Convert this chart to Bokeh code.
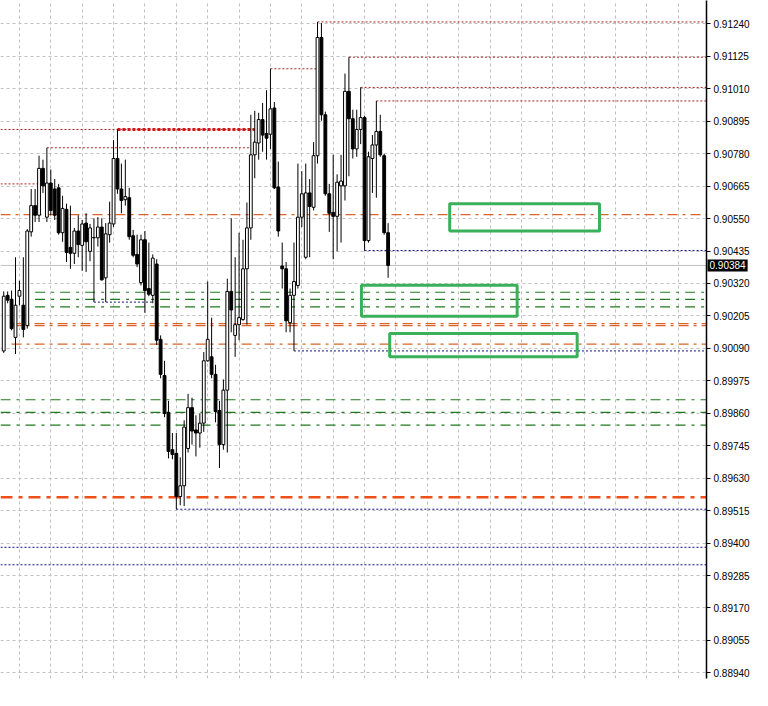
import numpy as np
from bokeh.plotting import figure
from bokeh.models import Range1d, FixedTicker, PrintfTickFormatter, Label, ColumnDataSource
from bokeh.embed import file_html
from bokeh.resources import INLINE

# ---- candle data (index, open, high, low, close) ----
opens = [0.90081, 0.90278, 0.90264, 0.90129, 0.90275, 0.90243, 0.90171, 0.90503, 0.90596, 0.90562,
         0.90728, 0.90555, 0.90676, 0.90655, 0.90659, 0.90500, 0.90583, 0.90448, 0.90427, 0.90506,
         0.90455, 0.90534, 0.90434, 0.90482, 0.90482, 0.90520, 0.90340, 0.90493, 0.90531, 0.90763,
         0.90655, 0.90617, 0.90624, 0.90489, 0.90423, 0.90323, 0.90475, 0.90302, 0.90278, 0.90389,
         0.90122, 0.89994, 0.89863, 0.89731, 0.89718, 0.89565, 0.89603, 0.89735, 0.89880, 0.89801,
         0.89790, 0.89825, 0.90046, 0.90060, 0.89998, 0.89870, 0.89749, 0.89942, 0.90292, 0.90136,
         0.90174, 0.90192, 0.90372, 0.90517, 0.90776, 0.90818, 0.90901, 0.90852, 0.90849, 0.90942,
         0.90662, 0.90382, 0.90372, 0.90181, 0.90278, 0.90313, 0.90555, 0.90413, 0.90641, 0.90590,
         0.90773, 0.91192, 0.90918, 0.90638, 0.90572, 0.90558, 0.90666, 0.90666, 0.91001, 0.90904,
         0.90797, 0.90866, 0.90908, 0.90472, 0.90763, 0.90811, 0.90859, 0.90773, 0.90500]
highs = [0.90292, 0.90292, 0.90295, 0.90413, 0.90330, 0.90413, 0.90513, 0.90655, 0.90655, 0.90773,
         0.90759, 0.90801, 0.90724, 0.90690, 0.90673, 0.90631, 0.90603, 0.90596, 0.90517, 0.90562,
         0.90545, 0.90569, 0.90531, 0.90551, 0.90555, 0.90551, 0.90534, 0.90610, 0.90828, 0.90866,
         0.90745, 0.90759, 0.90659, 0.90510, 0.90493, 0.90493, 0.90506, 0.90465, 0.90423, 0.90406,
         0.90136, 0.90046, 0.89904, 0.89790, 0.89790, 0.89704, 0.89835, 0.89929, 0.89915, 0.89853,
         0.89859, 0.90077, 0.90327, 0.90199, 0.90032, 0.89904, 0.89980, 0.90337, 0.90551, 0.90413,
         0.90500, 0.90475, 0.90607, 0.90918, 0.90932, 0.90925, 0.90960, 0.91005, 0.91081, 0.90963,
         0.90752, 0.90465, 0.90396, 0.90302, 0.90465, 0.90745, 0.90718, 0.90745, 0.90690, 0.90821,
         0.91247, 0.91243, 0.90929, 0.90673, 0.90776, 0.90707, 0.90776, 0.91064, 0.91122, 0.90936,
         0.90936, 0.91015, 0.90915, 0.90787, 0.90846, 0.90967, 0.90918, 0.90780, 0.90534]
lows = [0.90074, 0.90250, 0.90154, 0.90070, 0.90243, 0.90129, 0.90160, 0.90486, 0.90538, 0.90538,
        0.90641, 0.90538, 0.90562, 0.90545, 0.90493, 0.90468, 0.90396, 0.90372, 0.90389, 0.90413,
        0.90365, 0.90361, 0.90399, 0.90254, 0.90451, 0.90330, 0.90254, 0.90465, 0.90520, 0.90638,
        0.90569, 0.90596, 0.90475, 0.90413, 0.90378, 0.90313, 0.90216, 0.90275, 0.90250, 0.90102,
        0.89984, 0.89846, 0.89700, 0.89697, 0.89520, 0.89534, 0.89531, 0.89721, 0.89749, 0.89707,
        0.89738, 0.89794, 0.90043, 0.89984, 0.89828, 0.89666, 0.89731, 0.89721, 0.90147, 0.90060,
        0.90119, 0.90188, 0.90174, 0.90475, 0.90693, 0.90759, 0.90787, 0.90759, 0.90797, 0.90655,
        0.90486, 0.90302, 0.90147, 0.90147, 0.90081, 0.90302, 0.90520, 0.90406, 0.90413, 0.90579,
        0.90745, 0.90897, 0.90631, 0.90503, 0.90406, 0.90434, 0.90465, 0.90614, 0.90700, 0.90763,
        0.90769, 0.90814, 0.90437, 0.90465, 0.90641, 0.90624, 0.90769, 0.90493, 0.90340]
closes = [0.90275, 0.90261, 0.90160, 0.90243, 0.90295, 0.90157, 0.90506, 0.90596, 0.90562, 0.90728,
          0.90666, 0.90676, 0.90579, 0.90562, 0.90500, 0.90586, 0.90430, 0.90427, 0.90506, 0.90458,
          0.90531, 0.90468, 0.90517, 0.90483, 0.90520, 0.90333, 0.90496, 0.90534, 0.90763, 0.90655,
          0.90614, 0.90628, 0.90486, 0.90420, 0.90389, 0.90475, 0.90295, 0.90282, 0.90410, 0.90119,
          0.89998, 0.89859, 0.89725, 0.89714, 0.89565, 0.89603, 0.89811, 0.89880, 0.89797, 0.89790,
          0.89825, 0.90046, 0.90122, 0.89998, 0.89866, 0.89749, 0.89942, 0.90292, 0.90226, 0.90174,
          0.90199, 0.90372, 0.90517, 0.90776, 0.90821, 0.90901, 0.90846, 0.90835, 0.90939, 0.90659,
          0.90506, 0.90372, 0.90188, 0.90278, 0.90327, 0.90555, 0.90638, 0.90641, 0.90593, 0.90773,
          0.91192, 0.90918, 0.90638, 0.90569, 0.90558, 0.90679, 0.90683, 0.91001, 0.90904, 0.90797,
          0.90866, 0.90908, 0.90472, 0.90769, 0.90811, 0.90859, 0.90776, 0.90500, 0.90384]

current_price = 0.90384
tick_values = [0.88940, 0.89055, 0.89170, 0.89285, 0.89400, 0.89515, 0.89630, 0.89745, 0.89860,
               0.89975, 0.90090, 0.90205, 0.90320, 0.90435, 0.90550, 0.90665, 0.90780, 0.90895,
               0.91010, 0.91125, 0.91240]
xgrid_bars = list(range(4, 180, 8))

X_START, X_END = -0.825, 179.175
Y_BOTTOM, Y_TOP = 0.88920, 0.91323

# ---- levels: price, start bar, end bar (None = chart edge) ----
red_prices = [0.91247, 0.91122, 0.91015, 0.90967, 0.91081, 0.90866, 0.90801, 0.90673]
red_start = [80, 88, 91, 95, 68, None, 11, None]
red_end = [None, None, None, None, 80, 64, 63, 9]
red_bold_prices = [0.90866]
red_bold_start = [29]
red_bold_end = [64]

orange_prices = [0.90564, 0.90178, 0.90171, 0.90105]
orange_start = [None, 2, 2, 2]
orange_bold_prices = [0.89562]

green_prices = [0.90289, 0.90264, 0.90237, 0.89908, 0.89863, 0.89818]
green_start = [8, 8, 8, None, None, None]

navy_prices = [0.90437, 0.90254, 0.90081, 0.89520, 0.89385, 0.89323]
navy_start = [92, 23, 74, 44, None, None]
navy_end = [None, 38, None, None, None, None]

zone_left = [113.7, 91.2, 98.4]
zone_right = [151.9, 130.9, 146.2]
zone_top = [0.90603, 0.90314, 0.90143]
zone_bottom = [0.90506, 0.90204, 0.90060]


def seg_src(prices, starts, ends=None):
    ends = ends if ends is not None else [None] * len(prices)
    return ColumnDataSource(dict(
        x0=[X_START if s is None else s for s in starts],
        x1=[X_END if e is None else e for e in ends],
        y=prices))


p = figure(width=752, height=690, output_backend="svg", toolbar_location=None,
           x_range=Range1d(X_START, X_END), y_range=Range1d(Y_BOTTOM, Y_TOP),
           x_axis_location=None, y_axis_location="right", min_border=0)
p.outline_line_color = None
p.background_fill_color = "white"

p.xgrid.ticker = FixedTicker(ticks=xgrid_bars)
p.ygrid.ticker = FixedTicker(ticks=tick_values)
for g in (p.xgrid, p.ygrid):
    g.grid_line_color = "#c0c0c0"
    g.grid_line_dash = "3 3"
    g.grid_line_width = 1

ax = p.yaxis[0]
ax.ticker = FixedTicker(ticks=tick_values)
ax.formatter = PrintfTickFormatter(format="%.5f")
ax.axis_line_color = "black"
ax.axis_line_width = 1.5
ax.major_tick_out = 4
ax.major_tick_in = 0
ax.minor_tick_line_color = None
ax.major_tick_line_color = "black"
ax.major_label_text_font = "Liberation Sans"
ax.major_label_text_font_size = "10px"
ax.major_label_text_color = "black"
ax.major_label_standoff = 3

# current price line
p.segment(x0=X_START, x1=X_END, y0=current_price, y1=current_price, line_color="#c0c0c0", line_width=1)

# levels
s = seg_src(red_prices, red_start, red_end)
p.segment(x0="x0", x1="x1", y0="y", y1="y", source=s, line_color="#a3231f", line_width=1, line_dash="2 2")
s = seg_src(red_bold_prices, red_bold_start, red_bold_end)
p.segment(x0="x0", x1="x1", y0="y", y1="y", source=s, line_color="#d01818", line_width=3, line_dash="3 2")
s = seg_src(orange_prices, orange_start)
p.segment(x0="x0", x1="x1", y0="y", y1="y", source=s, line_color="#d8642a", line_width=1.3, line_dash="10 5 3 5")
s = seg_src(orange_bold_prices, [None])
p.segment(x0="x0", x1="x1", y0="y", y1="y", source=s, line_color="#ee5018", line_width=2.5, line_dash="12 6 4 6")
s = seg_src(green_prices, green_start)
p.segment(x0="x0", x1="x1", y0="y", y1="y", source=s, line_color="#1f7a1f", line_width=1.2, line_dash="10 6 3 6")
s = seg_src(navy_prices, navy_start, navy_end)
p.segment(x0="x0", x1="x1", y0="y", y1="y", source=s, line_color="#101080", line_width=1, line_dash="2 2")

# candles
idx = list(range(len(opens)))
up = [c >= o for o, c in zip(opens, closes)]
src = ColumnDataSource(dict(
    x=idx, high=highs, low=lows,
    top=[max(o, c) for o, c in zip(opens, closes)],
    bottom=[min(o, c) for o, c in zip(opens, closes)],
    fill=["white" if u else "black" for u in up]))
p.segment(x0="x", x1="x", y0="low", y1="high", source=src, line_color="black", line_width=1)
p.vbar(x="x", top="top", bottom="bottom", width=0.72, fill_color="fill", line_color="black",
       line_width=1, source=src)

# zones
p.quad(left=zone_left, right=zone_right, top=zone_top, bottom=zone_bottom, fill_color=None,
       line_color="#3bb05a", line_width=3)

# current price tag on the axis (placed in a side panel so it is not clipped to the frame)
p.add_layout(Label(x=X_END, y=current_price, text="%.5f" % current_price, x_offset=1,
                   text_baseline="middle", text_align="left", text_color="white",
                   text_font="Liberation Sans", text_font_size="10px",
                   background_fill_color="black", padding=2), "below")

open("out.html", "w").write(file_html(p, INLINE))
